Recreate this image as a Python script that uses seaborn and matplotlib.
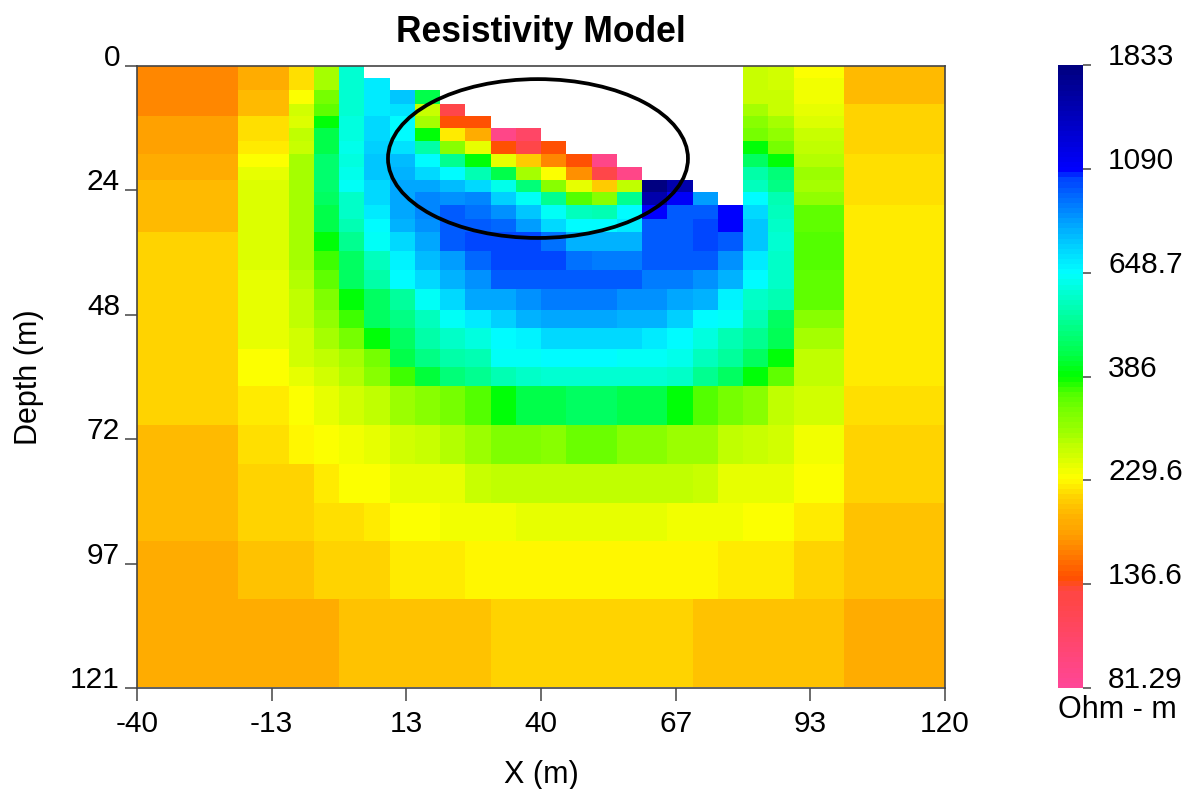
import numpy as np
import seaborn as sns
import matplotlib
matplotlib.use("Agg")
import matplotlib.pyplot as plt
from matplotlib.colors import LinearSegmentedColormap, LogNorm
from matplotlib.patches import Ellipse

sns.set_style("white")
plt.rcParams['font.family'] = ['Liberation Sans', 'DejaVu Sans']
plt.rcParams['text.color'] = 'black'
plt.rcParams['axes.labelcolor'] = 'black'

NA = float('nan')

# layer tops/bottoms in metres
depth_edges = [0, 2.33, 4.67, 7.39, 9.92, 12.25, 14.78, 17.31, 19.84, 22.37, 24.9, 27.4, 29.95, 32.48,
               36.18, 39.87, 43.57, 47.65, 51.15, 55.24, 58.74, 62.43, 70.02, 77.6, 85.2, 92.6, 103.9, 121]

# resistivity per layer (Ohm-m), 32 blocks of 5 m from x = -40 to 120
layer_00 = [165,165,165,165,188,188,215,285,590,NA,NA,NA,NA,NA,NA,NA,NA,NA,NA,NA,NA,NA,NA,NA,265,258,232,232,198,198,198,198]
layer_01 = [165,165,165,165,188,188,220,285,590,680,NA,NA,NA,NA,NA,NA,NA,NA,NA,NA,NA,NA,NA,NA,265,258,240,240,198,198,198,198]
layer_02 = [165,165,165,165,195,195,232,325,590,680,760,430,NA,NA,NA,NA,NA,NA,NA,NA,NA,NA,NA,NA,265,265,240,240,198,198,198,198]
layer_03 = [165,165,165,165,198,198,258,345,590,680,700,265,125,NA,NA,NA,NA,NA,NA,NA,NA,NA,NA,NA,285,265,244,244,210,210,210,210]
layer_04 = [175,175,175,175,215,215,255,387,600,720,648,285,140,140,NA,NA,NA,NA,NA,NA,NA,NA,NA,NA,310,285,255,255,210,210,210,210]
layer_05 = [175,175,175,175,215,215,270,430,600,720,648,387,222,188,90,105,NA,NA,NA,NA,NA,NA,NA,NA,330,300,265,265,210,210,210,210]
layer_06 = [175,175,175,175,225,225,265,430,620,740,700,535,310,250,140,125,140,NA,NA,NA,NA,NA,NA,NA,387,325,270,270,213,213,213,213]
layer_07 = [188,188,188,188,232,232,285,470,610,760,780,648,510,387,250,205,165,140,90,NA,NA,NA,NA,NA,460,387,280,280,218,218,218,218]
layer_08 = [188,188,188,188,244,244,285,470,620,760,800,730,648,550,430,285,232,170,125,90,NA,NA,NA,NA,535,480,295,295,218,218,218,218]
layer_09 = [198,198,198,198,255,255,285,470,640,730,830,830,780,730,620,480,310,244,205,270,1800,1500,NA,NA,560,490,285,285,218,218,218,218]
layer_10 = [198,198,198,198,255,255,285,450,580,720,830,880,870,880,740,640,500,350,310,500,1500,1100,850,NA,648,550,300,300,218,218,218,218]
layer_11 = [198,198,198,198,255,255,285,430,570,690,820,880,970,930,860,760,640,560,540,648,1085,970,970,1085,730,560,340,340,224,224,224,224]
layer_12 = [198,198,198,198,255,255,285,430,550,648,800,860,990,970,960,840,720,648,648,690,970,970,1030,1085,750,570,340,340,224,224,224,224]
layer_13 = [213,213,213,213,255,255,285,387,500,640,730,830,970,1030,1030,1030,920,800,800,800,970,970,1030,970,750,590,355,355,224,224,224,224]
layer_14 = [213,213,213,213,255,255,285,360,450,560,660,780,850,960,1030,1030,1030,930,900,900,970,970,970,860,690,580,355,355,224,224,224,224]
layer_15 = [213,213,213,213,250,250,280,340,460,535,648,730,790,870,970,970,970,970,970,970,900,900,860,790,648,570,340,340,224,224,224,224]
layer_16 = [213,213,213,213,244,244,270,320,387,450,520,640,720,810,830,860,900,900,900,860,860,830,790,660,580,540,340,340,224,224,224,224]
layer_17 = [213,213,213,213,244,244,270,300,360,450,490,560,640,680,740,790,830,830,830,790,790,740,650,640,540,460,310,310,224,224,224,224]
layer_18 = [213,213,213,213,244,244,258,285,330,387,460,530,570,610,648,660,730,730,730,730,680,648,600,540,510,440,285,285,224,224,224,224]
layer_19 = [213,213,213,213,232,232,258,270,290,330,430,490,530,550,630,640,648,648,648,630,630,620,560,520,450,387,275,275,224,224,224,224]
layer_20 = [213,213,213,213,232,232,250,258,280,310,360,420,480,500,540,580,590,590,590,590,590,570,510,450,387,340,275,275,224,224,224,224]
layer_21 = [213,213,213,213,222,222,232,244,262,270,295,310,330,355,387,430,430,460,460,430,430,387,355,330,310,275,262,262,218,218,218,218]
layer_22 = [198,198,198,198,218,218,228,232,240,250,258,265,280,295,315,315,310,335,335,310,310,295,295,270,265,258,240,240,210,210,210,210]
layer_23 = [198,198,198,198,210,210,213,225,232,232,244,250,250,265,275,275,275,275,275,275,275,275,265,250,250,244,232,232,210,210,210,210]
layer_24 = [198,198,198,198,210,210,210,218,218,224,232,232,240,240,240,250,250,250,250,250,250,240,240,240,232,232,222,222,200,200,200,200]
layer_25 = [188,188,188,188,200,200,200,213,213,213,222,222,222,228,228,228,228,228,228,228,228,228,228,222,222,222,213,213,200,200,200,200]
layer_26 = [188,188,188,188,188,188,188,188,200,200,200,200,200,200,213,213,213,213,213,213,213,213,200,200,200,200,200,200,188,188,188,188]

x_ticks = [-40, -13.33, 13.33, 40, 66.67, 93.33, 120]
x_labels = ['-40', '-13', '13', '40', '67', '93', '120']
depth_ticks = [0, 24.2, 48.4, 72.6, 96.8, 121]
depth_labels = ['0', '24', '48', '72', '97', '121']
cbar_ticks = [81.29, 136.6, 229.6, 386, 648.7, 1090, 1833]
cbar_labels = ['81.29', '136.6', '229.6', '386', '648.7', '1090', '1833']

# colour stops: resistivity -> colour of the inversion palette
stop_values = [81.29, 125, 131, 140, 165, 175, 188, 198, 213, 224, 232, 244, 258, 274, 290, 325, 355, 387, 430, 480,
               535, 590, 648, 720, 780, 840, 900, 970, 1030, 1050, 1090, 1833]
stop_colors = ['#ff4696', '#ff4646', '#ff4646', '#ff5000', '#ff8c00', '#ffa000', '#ffaf00', '#ffbe00', '#ffd700',
               '#fff000', '#ffff00', '#ebff00', '#d2ff00', '#beff00', '#a0ff00', '#78ff00', '#50ff00', '#00ff00',
               '#00ff46', '#00ff78', '#00ffaa', '#00ffd2', '#00ffff', '#00dcff', '#00beff', '#00a0ff', '#0082ff',
               '#0064ff', '#0046ff', '#0046ff', '#0000ff', '#000080']

layers = np.array([layer_00, layer_01, layer_02, layer_03, layer_04, layer_05, layer_06, layer_07, layer_08,
                   layer_09, layer_10, layer_11, layer_12, layer_13, layer_14, layer_15, layer_16, layer_17,
                   layer_18, layer_19, layer_20, layer_21, layer_22, layer_23, layer_24, layer_25, layer_26], dtype=float)

# heatmap cells are uniform, so repeat every layer by its thickness in 0.1 m steps
thickness = np.round(np.diff(np.array(depth_edges) * 10)).astype(int)
grid = np.repeat(layers, thickness, axis=0)

lo, hi = np.log(stop_values[0]), np.log(stop_values[-1])
positions = [(np.log(v) - lo) / (hi - lo) for v in stop_values]
cmap = LinearSegmentedColormap.from_list('resist', list(zip(positions, stop_colors)), N=122)

W, H = 1194, 789
fig = plt.figure(figsize=(W / 100, H / 100), dpi=100)
ax = fig.add_axes([137 / W, 1 - 688 / H, 808 / W, 622 / H])
cax = fig.add_axes([1058 / W, 1 - 688 / H, 25 / W, 623 / H])

sns.heatmap(grid, ax=ax, cbar_ax=cax, cmap=cmap, norm=LogNorm(stop_values[0], stop_values[-1]),
            xticklabels=False, yticklabels=False)

edge = '#444444'
for s in ax.spines.values():
    s.set_visible(True)
    s.set_color(edge)
    s.set_linewidth(1.2)

ax.set_xticks([(x + 40) / 5 for x in x_ticks])
ax.set_xticklabels(x_labels, fontsize=21.5, color='black')
ax.set_yticks([d * 10 for d in depth_ticks])
ax.set_yticklabels(depth_labels, fontsize=21.5, color='black', va='baseline', rotation=0)
ax.tick_params(axis='x', length=9.5, width=1.1, color=edge, pad=6.5, bottom=True)
ax.tick_params(axis='y', length=8.6, width=1.1, color=edge, pad=3.6, left=True)

ax.set_title('Resistivity Model', fontsize=25.6, fontweight='bold', pad=17, color='black')
ax.set_xlabel('X (m)', fontsize=22, labelpad=16)
ax.set_ylabel('Depth (m)', fontsize=22, labelpad=19)

# ellipse marking the shallow anomaly
ax.add_patch(Ellipse((15.88, 180), 11.88, 309, fill=False, edgecolor='black', linewidth=2.7))

cax.set_yticks(cbar_ticks)
cax.set_yticklabels(cbar_labels, fontsize=21.5, va='baseline', color='black')
cax.minorticks_off()
cax.tick_params(axis='y', length=6, width=1.1, color=edge, pad=12, right=True, left=False)
fig.text(1058 / W, 1 - 718 / H, 'Ohm - m', fontsize=22, ha='left', va='baseline')

fig.savefig('out.png', dpi=100)
